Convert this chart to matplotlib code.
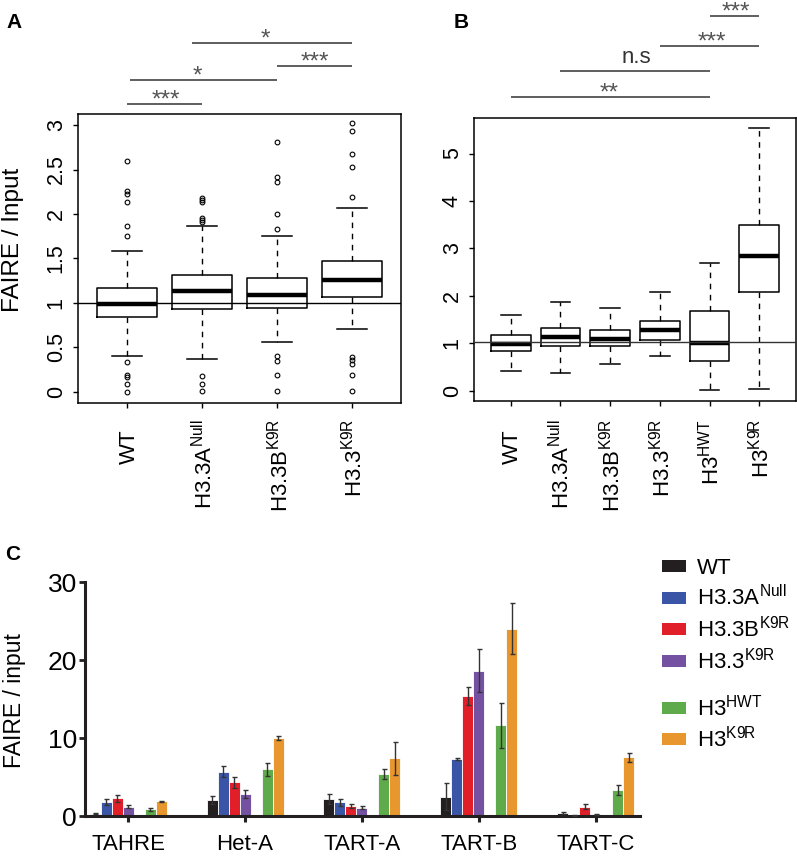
import matplotlib
matplotlib.use("Agg")
import matplotlib.pyplot as plt
from matplotlib.patches import Rectangle
from matplotlib.transforms import blended_transform_factory as blend

plt.rcParams['font.family'] = ['Liberation Sans', 'DejaVu Sans']
plt.rcParams['mathtext.fontset'] = 'custom'
plt.rcParams['mathtext.rm'] = 'Liberation Sans'
plt.rcParams['mathtext.it'] = 'Liberation Sans:italic'
plt.rcParams['mathtext.bf'] = 'Liberation Sans:bold'
plt.rcParams['mathtext.default'] = 'regular'

# ---------------- data ----------------
labels_A = ['WT', r'H3.3A$^{Null}$', r'H3.3B$^{K9R}$', r'H3.3$^{K9R}$']
A_whislo = [0.40, 0.37, 0.56, 0.71]
A_q1 = [0.84, 0.93, 0.94, 1.07]
A_med = [0.985, 1.13, 1.09, 1.26]
A_q3 = [1.17, 1.31, 1.28, 1.47]
A_whishi = [1.58, 1.86, 1.75, 2.07]
A_fliers = [
    [2.60, 2.26, 2.23, 2.13, 1.87, 1.75, 0.34, 0.19, 0.17, 0.09, 0.0],
    [2.18, 2.16, 2.14, 1.95, 1.93, 1.91, 0.18, 0.09, 0.01],
    [2.81, 2.42, 2.36, 2.00, 1.83, 0.40, 0.35, 0.19, 0.01],
    [3.02, 2.93, 2.67, 2.53, 2.19, 0.39, 0.36, 0.31, 0.19, 0.01],
]
A_ref = 1.0
A_yticks = [0, 0.5, 1, 1.5, 2, 2.5, 3]
A_ytick_labels = ['0', '0.5', '1', '1.5', '2', '2.5', '3']

labels_B = ['WT', r'H3.3A$^{Null}$', r'H3.3B$^{K9R}$', r'H3.3$^{K9R}$',
            r'H3$^{HWT}$', r'H3$^{K9R}$']
B_whislo = [0.41, 0.37, 0.57, 0.72, 0.02, 0.035]
B_q1 = [0.84, 0.93, 0.94, 1.07, 0.62, 2.08]
B_med = [0.99, 1.13, 1.09, 1.27, 1.01, 2.84]
B_q3 = [1.17, 1.32, 1.28, 1.47, 1.67, 3.50]
B_whishi = [1.59, 1.86, 1.75, 2.07, 2.70, 5.53]
B_ref = 1.03
B_yticks = [0, 1, 2, 3, 4, 5]

# significance brackets: (x1, x2, label, text_x)
A_sig = [(1, 2, '***', 1.52), (1.04, 3, '*', 1.93), (3, 4, '***', 3.51), (1.87, 4, '*', 2.85)]
B_sig = [(5, 6, '***', 5.54), (4, 6, '***', 5.05), (2, 5, 'n.s', 3.52), (1, 5, '**', 2.98)]

groups_C = ['TAHRE', 'Het-A', 'TART-A', 'TART-B', 'TART-C']
series_C = ['WT', r'H3.3A$^{Null}$', r'H3.3B$^{K9R}$', r'H3.3$^{K9R}$', r'H3$^{HWT}$', r'H3$^{K9R}$']
C_WT = [0.3, 2.05, 2.15, 2.5, 0.35]
C_H33A = [1.83, 5.7, 1.75, 7.3, 0.06]
C_H33B = [2.26, 4.3, 1.3, 15.4, 1.2]
C_H33K9R = [1.2, 2.8, 1.05, 18.65, 0.2]
C_H3HWT = [0.85, 6.0, 5.4, 11.65, 3.3]
C_H3K9R = [1.9, 10.0, 7.4, 24.0, 7.55]
E_WT = [0.1, 0.5, 0.65, 1.7, 0.1]
E_H33A = [0.4, 0.65, 0.45, 0.1, 0.05]
E_H33B = [0.45, 0.75, 0.3, 1.2, 0.3]
E_H33K9R = [0.2, 0.5, 0.2, 2.8, 0.1]
E_H3HWT = [0.2, 0.85, 0.6, 2.9, 0.65]
E_H3K9R = [0.08, 0.25, 2.15, 3.25, 0.57]
C_yticks = [0, 10, 20, 30]
colors_C = ['#231f20', '#3a55a5', '#e01f28', '#7452a1', '#5fab4b', '#e8962e']

# ---------------- layout ----------------
W, H, DPI = 797, 857, 100
fig = plt.figure(figsize=(W / DPI, H / DPI), dpi=DPI)


def px_axes(left, top, right, bottom):
    return fig.add_axes([left / W, 1 - bottom / H, (right - left) / W, (bottom - top) / H])


def fy(ypx):
    return 1 - ypx / H


axA = px_axes(78, 114, 401, 403)
axB = px_axes(474, 118, 796, 401)
axC = px_axes(85, 582, 640, 816)

box_kw = dict(widths=0.8, capwidths=0.4, patch_artist=False,
              boxprops=dict(color='k', lw=1.1),
              medianprops=dict(color='k', lw=3.2, solid_capstyle='butt'),
              whiskerprops=dict(color='k', lw=1.0, linestyle=(0, (4, 4))),
              capprops=dict(color='k', lw=1.1),
              flierprops=dict(marker='o', markerfacecolor='none', markeredgecolor='k',
                              markersize=3.4, markeredgewidth=0.8))


def make_stats(lo, q1, med, q3, hi, fl=None):
    out = []
    for i in range(len(med)):
        out.append(dict(whislo=lo[i], q1=q1[i], med=med[i], q3=q3[i], whishi=hi[i],
                        fliers=(fl[i] if fl is not None else [])))
    return out


def style_box_axes(ax, yticks, ylabels, fs=15.5):
    ax.set_yticks(yticks)
    ax.set_yticklabels(ylabels, fontsize=fs)
    for lab in ax.get_yticklabels():
        lab.set_rotation(90)
        lab.set_va('center')
    ax.tick_params(axis='both', direction='out', length=3.6, width=1.0, pad=4.5)
    for s in ax.spines.values():
        s.set_linewidth(1.1)
    ax.set_xticklabels([])


def x_labels(ax, pos, labels):
    tr = blend(ax.transData, fig.transFigure)
    for p, lab in zip(pos, labels):
        top = 419 if '$' in lab else 429
        ax.text(p + 0.03, fy(top), lab, transform=tr, rotation=90, ha='center', va='top',
                fontsize=16, clip_on=False)


def brackets(ax, sig, bar_px):
    tr = blend(ax.transData, fig.transFigure)
    for (x1, x2, lab, tx), by in zip(sig, bar_px):
        ax.plot([x1, x2], [fy(by), fy(by)], transform=tr, color='#333333', lw=1.1,
                clip_on=False, solid_capstyle='butt')
        if lab.startswith('*'):
            ax.text(tx, fy(by + 2.5), lab, transform=tr, ha='center', va='baseline',
                    fontsize=17.5, color='#555555', clip_on=False)
        else:
            ax.text(tx, fy(by - 8.4), lab, transform=tr, ha='center', va='baseline',
                    fontsize=16, color='#333333', clip_on=False)


# ---- Panel A ----
posA = list(range(1, len(labels_A) + 1))
axA.bxp(make_stats(A_whislo, A_q1, A_med, A_q3, A_whishi, A_fliers), positions=posA, **box_kw)
axA.axhline(A_ref, color='k', lw=1.0, zorder=5)
axA.set_xlim(0.34, len(labels_A) + 0.66)
axA.set_ylim(-0.124, 3.124)
style_box_axes(axA, A_yticks, A_ytick_labels)
axA.set_xticks(posA)
axA.set_xticklabels([])
x_labels(axA, posA, labels_A)
brackets(axA, A_sig, [104, 80, 66, 43])

# ---- Panel B ----
posB = list(range(1, len(labels_B) + 1))
axB.bxp(make_stats(B_whislo, B_q1, B_med, B_q3, B_whishi), positions=posB,
        showfliers=False, **box_kw)
axB.axhline(B_ref, color='#333333', lw=1.0, zorder=5)
axB.set_xlim(0.26, len(labels_B) + 0.74)
axB.set_ylim(-0.22, 5.75)
style_box_axes(axB, B_yticks, [str(v) for v in B_yticks])
axB.set_xticks(posB)
axB.set_xticklabels([])
x_labels(axB, posB, labels_B)
brackets(axB, B_sig, [16, 46, 71, 97])

fig.text(12.5 / W, fy(240), 'FAIRE / Input', rotation=90, ha='center', va='center', fontsize=17.5)
fig.text(14.5 / W, fy(23), 'A', ha='center', va='center', fontsize=15, fontweight='bold')
fig.text(461 / W, fy(22), 'B', ha='center', va='center', fontsize=15, fontweight='bold')
fig.text(13 / W, fy(555), 'C', ha='center', va='center', fontsize=15, fontweight='bold')

# ---- Panel C ----
vals_C = [C_WT, C_H33A, C_H33B, C_H33K9R, C_H3HWT, C_H3K9R]
errs_C = [E_WT, E_H33A, E_H33B, E_H33K9R, E_H3HWT, E_H3K9R]
slot = 0.094
offsets = [-3, -2, -1, 0, 2, 3]
gpos = list(range(len(groups_C)))
for i in range(len(series_C)):
    x = [g + offsets[i] * slot for g in gpos]
    axC.bar(x, vals_C[i], width=slot, color=colors_C[i], edgecolor='white', linewidth=0.6, zorder=2)
    axC.errorbar(x, vals_C[i], yerr=errs_C[i], fmt='none', ecolor='#333333', elinewidth=1.0,
                 capsize=1.8, capthick=1.0, zorder=3)
axC.set_xlim(-0.37, 4.38)
axC.set_ylim(0, 30)
axC.spines[['top', 'right']].set_visible(False)
for s in ('left', 'bottom'):
    axC.spines[s].set_linewidth(2.2)
    axC.spines[s].set_color('#231f20')
axC.set_xticks(gpos)
axC.set_xticklabels(groups_C, fontsize=16)
axC.set_yticks(C_yticks)
axC.set_yticklabels([str(v) for v in C_yticks], fontsize=19)
axC.tick_params(axis='y', direction='out', length=4.3, width=2.0, color='#231f20', pad=1.5)
axC.tick_params(axis='x', direction='out', length=4.3, width=2.2, color='#231f20', pad=8.5)
fig.text(14.5 / W, fy(701), 'FAIRE / input', rotation=90, ha='center', va='center', fontsize=16.5)

# legend
leg_y = [566, 597.5, 629, 660.5, 707.5, 739]
for lab, col, y in zip(series_C, colors_C, leg_y):
    fig.patches.append(Rectangle((662 / W, fy(y + 6)), 24 / W, 12 / H, transform=fig.transFigure,
                                 facecolor=col, edgecolor='none'))
    fig.text(697 / W, fy(y + 8), lab, ha='left', va='baseline', fontsize=16)

fig.savefig('out.png', dpi=DPI)
